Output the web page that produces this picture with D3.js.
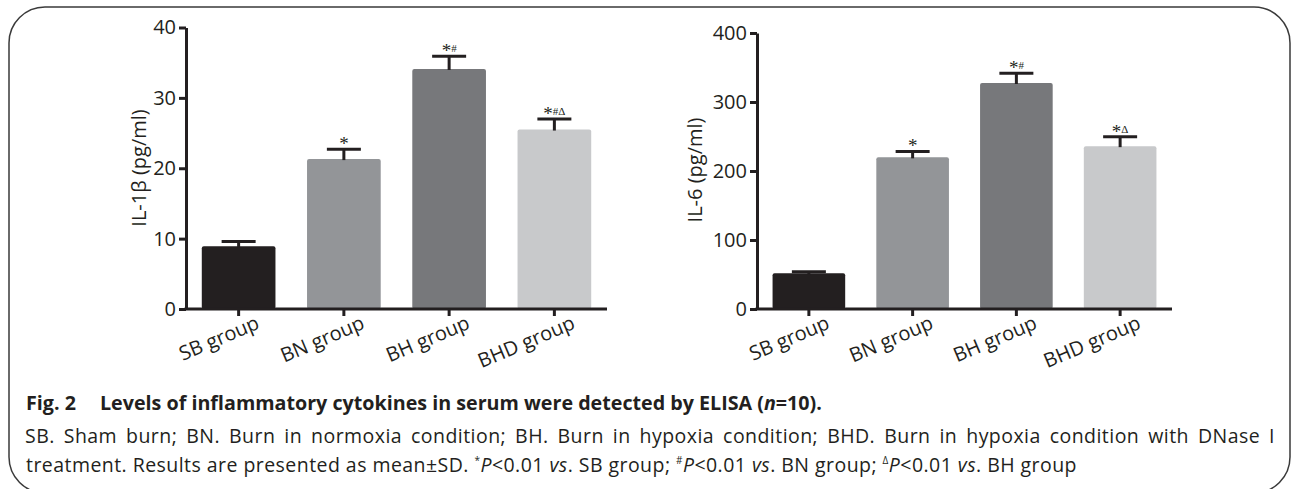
<!DOCTYPE html>
<html>
<head>
<meta charset="utf-8">
<script src="https://cdn.jsdelivr.net/npm/d3@7"></script>
<style>
body { margin: 0; background: #fff; }
svg { display: block; }
text { font-family: "Open Sans", sans-serif; fill: #231f20; }
</style>
</head>
<body>
<svg id="fig" width="1292" height="489"></svg>
<script>
// data
var groups = ["SB group", "BN group", "BH group", "BHD group"];
var barColors = ["#231f20", "#939598", "#77787b", "#c8c9cb"];

var il1bMean = [8.9, 21.3, 34.1, 25.5];
var il1bSD = [0.7, 1.4, 1.8, 1.5];
var il1bMarks = ["", "*", "*#", "*#Δ"];
var il1bTicks = [0, 10, 20, 30, 40];

var il6Mean = [51.7, 219.8, 327.5, 236];
var il6SD = [2.3, 8.5, 14, 13.7];
var il6Marks = ["", "*", "*#", "*Δ"];
var il6Ticks = [0, 100, 200, 300, 400];

var svg = d3.select("#fig");

drawFrame();
drawPanel({ x0: 186, x1: 607, y0: 309, y1: 27.5, max: 40, ticks: il1bTicks,
            mean: il1bMean, sd: il1bSD, marks: il1bMarks,
            label: "IL-1β (pg/ml)", labelX: 146, labelY: 168 });
drawPanel({ x0: 757, x1: 1172, y0: 309, y1: 33, max: 400, ticks: il6Ticks,
            mean: il6Mean, sd: il6SD, marks: il6Marks,
            label: "IL-6 (pg/ml)", labelX: 702, labelY: 170 });
drawCaption();

function drawFrame(){
    // bottom edge sits just below the picture, only the corners show
    svg.append("rect")
        .attr("x", 9).attr("y", 7)
        .attr("width", 1281).attr("height", 486)
        .attr("rx", 36).attr("ry", 36)
        .attr("fill", "none")
        .attr("stroke", "#3a3a3a")
        .attr("stroke-width", 1.5);
}

function drawPanel(opt){
    var g = svg.append("g");
    var x = d3.scaleBand().domain(groups)
        .range([opt.x0, opt.x1])
        .paddingInner(0.3)
        .paddingOuter(0.15);
    var y = d3.scaleLinear().domain([0, opt.max]).range([opt.y0, opt.y1]);
    var cx = function(i){ return x(groups[i]) + x.bandwidth() / 2; };

    // bars
    g.selectAll("rect.bar").data(opt.mean).enter()
        .append("rect")
        .attr("class", "bar")
        .attr("x", function(d, i){ return x(groups[i]); })
        .attr("width", x.bandwidth())
        .attr("y", function(d){ return y(d); })
        .attr("height", function(d){ return y(0) - y(d); })
        .attr("rx", 2)
        .attr("fill", function(d, i){ return barColors[i]; });

    // upper error bars
    var err = g.selectAll("g.err").data(opt.mean).enter().append("g").attr("class", "err");
    err.append("line")
        .attr("x1", function(d, i){ return cx(i); })
        .attr("x2", function(d, i){ return cx(i); })
        .attr("y1", function(d){ return y(d) + 1; })
        .attr("y2", function(d, i){ return y(d + opt.sd[i]); });
    err.append("line")
        .attr("x1", function(d, i){ return cx(i) - 17; })
        .attr("x2", function(d, i){ return cx(i) + 17; })
        .attr("y1", function(d, i){ return y(d + opt.sd[i]); })
        .attr("y2", function(d, i){ return y(d + opt.sd[i]); });
    err.selectAll("line").attr("stroke", "#231f20").attr("stroke-width", 3);

    // significance marks
    opt.marks.forEach(function(m, i){
        if (!m) return;
        var t = g.append("text")
            .attr("x", cx(i))
            .attr("y", y(opt.mean[i] + opt.sd[i]) + 1)
            .attr("text-anchor", "middle")
            .style("font-family", "'Liberation Serif', 'DejaVu Serif', serif");
        t.append("tspan").attr("font-size", 19).text(m.charAt(0));
        if (m.length > 1) {
            t.append("tspan").attr("font-size", 11).attr("dy", -5).text(m.slice(1));
        }
    });

    // y axis
    var yAxis = d3.axisLeft(y).tickValues(opt.ticks).tickSize(7).tickPadding(3).tickSizeOuter(0);
    var ya = g.append("g").attr("transform", "translate(" + opt.x0 + ",0)").call(yAxis);
    ya.selectAll("path, line").attr("stroke", "#231f20").attr("stroke-width", 3);
    ya.selectAll("text").attr("font-size", 20).attr("fill", "#231f20")
        .style("font-family", "'Open Sans', sans-serif");

    // x axis
    var xAxis = d3.axisBottom(x).tickSize(7).tickSizeOuter(0).tickFormat("");
    var xa = g.append("g").attr("transform", "translate(0," + opt.y0 + ")").call(xAxis);
    xa.select(".domain").remove();
    xa.append("line")
        .attr("x1", opt.x0 - 1.5).attr("x2", opt.x1)
        .attr("stroke", "#231f20").attr("stroke-width", 3);
    xa.selectAll(".tick line").attr("stroke", "#231f20").attr("stroke-width", 3);

    g.selectAll("text.xlab").data(groups).enter()
        .append("text")
        .attr("class", "xlab")
        .attr("text-anchor", "end")
        .attr("font-size", 20)
        .attr("transform", function(d, i){
            return "translate(" + (cx(i) + 22) + "," + (opt.y0 + 19) + ") rotate(-23)";
        })
        .text(function(d){ return d; });

    // y title
    g.append("text")
        .attr("text-anchor", "middle")
        .attr("font-size", 20)
        .attr("transform", "translate(" + opt.labelX + "," + opt.labelY + ") rotate(-90)")
        .text(opt.label);
}

function justifyLine(g, sentence, x0, x1, y, size){
    var t = g.append("text").attr("y", y).attr("font-size", size)
        .style("letter-spacing", "0.45px");
    var words = sentence.split(" ");
    var spans = words.map(function(w){ return t.append("tspan").text(w); });
    var widths = spans.map(function(s){ return s.node().getComputedTextLength(); });
    var gap = (x1 - x0 - d3.sum(widths)) / (words.length - 1);
    var pos = x0;
    spans.forEach(function(s, i){
        s.attr("x", pos);
        pos += widths[i] + gap;
    });
}

function drawCaption(){
    var c = svg.append("g");

    var t1 = c.append("text").attr("y", 410).attr("font-size", 19.7).attr("font-weight", "bold");
    t1.append("tspan").attr("x", 26).text("Fig. 2");
    t1.append("tspan").attr("x", 100).text("Levels of inflammatory cytokines in serum were detected by ELISA (");
    t1.append("tspan").attr("font-style", "italic").text("n");
    t1.append("tspan").text("=10).");

    justifyLine(c, "SB. Sham burn; BN. Burn in normoxia condition; BH. Burn in hypoxia condition; BHD. Burn in hypoxia condition with DNase I",
        25, 1275, 443, 19.5);

    var t3 = c.append("text").attr("x", 26).attr("y", 472).attr("font-size", 19.5)
        .style("letter-spacing", "0.45px");
    var parts = [
        ["treatment. Results are presented as mean±SD. "],
        ["*", "sup"], ["P", "i"], ["<0.01 "], ["vs", "i"], [". SB group; "],
        ["#", "sup"], ["P", "i"], ["<0.01 "], ["vs", "i"], [". BN group; "],
        ["Δ", "sup"], ["P", "i"], ["<0.01 "], ["vs", "i"], [". BH group"]
    ];
    var raised = false;
    parts.forEach(function(p){
        var s = t3.append("tspan").text(p[0]);
        if (p[1] == "sup") {
            s.attr("font-size", 10).attr("dy", -8);
            raised = true;
        } else {
            if (raised) { s.attr("dy", 8); raised = false; }
            if (p[1] == "i") s.attr("font-style", "italic");
        }
    });
}
</script>
</body>
</html>
